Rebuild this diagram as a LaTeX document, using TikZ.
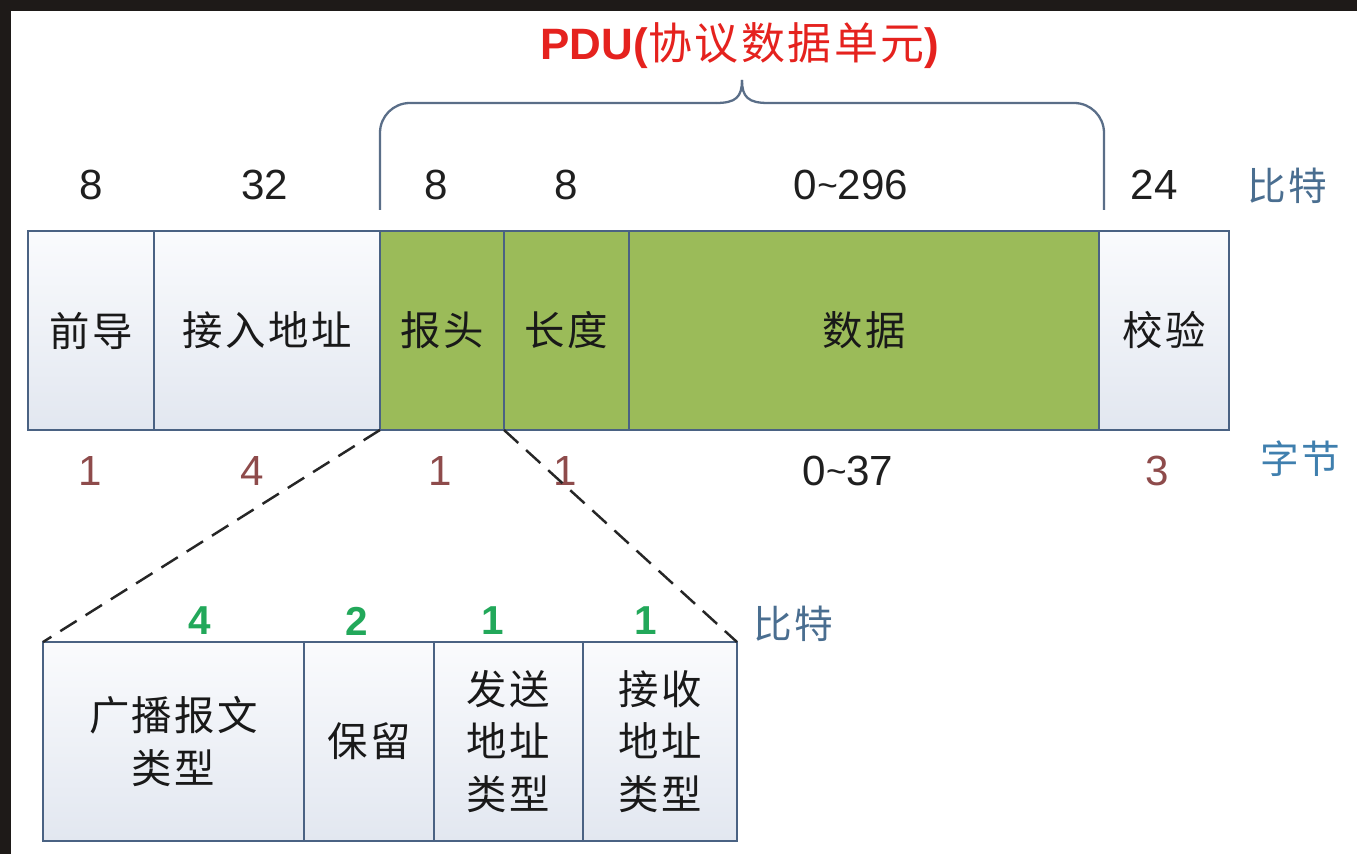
\documentclass[tikz,border=0pt]{standalone}
\usepackage{fontspec}
\setmainfont{Liberation Sans}
\newfontfamily\cjk{Noto Sans CJK SC}[LetterSpace=6]
\definecolor{bordc}{HTML}{4A6283}
\definecolor{boxtop}{HTML}{FAFBFD}
\definecolor{boxbot}{HTML}{E2E7F0}
\definecolor{pdugreen}{HTML}{9BBB59}
\definecolor{bytec}{HTML}{8E4B4B}
\definecolor{bitc}{HTML}{4A6E90}
\definecolor{bytelab}{HTML}{3F7FAE}
\definecolor{grn}{HTML}{22A85A}
\definecolor{pdured}{HTML}{E5221E}
\definecolor{bracec}{HTML}{5A6E88}
\definecolor{darkbg}{HTML}{1E1A18}
\newcommand\tld{{\fontsize{20}{20}\selectfont\raisebox{1pt}{\textasciitilde}}}
\begin{document}
\begin{tikzpicture}[x=0.02cm,y=-0.02cm,
  fldbase/.style={draw=bordc, line width=1.4pt, inner sep=0pt, outer sep=0pt,
    minimum height=3.98cm, font=\cjk\fontsize{23}{30}\selectfont, text=black!90, align=center},
  lt/.style={fldbase, top color=boxtop, bottom color=boxbot},
  gr/.style={fldbase, fill=pdugreen},
  num/.style={inner sep=0pt, font=\fontsize{24}{28}\selectfont, text=black!88},
  bnum/.style={num, text=bytec},
  gnum/.style={inner sep=0pt, font=\bfseries\fontsize{23}{28}\selectfont, text=grn},
  unit/.style={inner sep=0pt, font=\cjk\fontsize{22}{28}\selectfont},
  dashline/.style={line width=1.4pt, black!85, dash pattern=on 11pt off 6pt},
  bracel/.style={line width=1.3pt, bracec}
]
\useasboundingbox (0,0) rectangle (1357,854);
\fill[darkbg] (0,0) rectangle (1357,854);
\fill[white] (11,11) rectangle (1357,854);

% main frame
\node[lt, minimum width=2.52cm] (qd) at (91,330.5) {前导};
\node[lt, minimum width=4.52cm] (jr) at (267,330.5) {接入地址};
\node[gr, minimum width=2.48cm] (bt) at (442,330.5) {报头};
\node[gr, minimum width=2.5cm] (cd) at (566.5,330.5) {长度};
\node[gr, minimum width=9.4cm] (sj) at (864,330.5) {数据};
\node[lt, minimum width=2.6cm] (jy) at (1164,330.5) {校验};

% bits row
\node[num] (b1) at (91,185) {8};
\node[num] (b2) at (265,185) {32};
\node[num] (b3) at (436,185) {8};
\node[num] (b4) at (566,185) {8};
\node[num] (b5) at (851,185) {0\tld 296};
\node[num] (b6) at (1154,185) {24};
\node[unit, text=bitc] (bitlab) at (1287,186) {比特};

% bytes row
\node[bnum] (y1) at (90,471) {1};
\node[bnum] (y2) at (252,471) {4};
\node[bnum] (y3) at (440,471) {1};
\node[bnum] (y4) at (565,471) {1};
\node[num] (y5) at (848,471) {0\tld 37};
\node[bnum] (y6) at (1157,471) {3};
\node[unit, text=bytelab] (bytelab) at (1300,459) {字节};

% PDU brace
\node[inner sep=0pt, text=pdured, font=\bfseries\fontsize{25}{30}\selectfont] (pdu) at (740,46) {PDU({\cjk\mdseries 协议数据单元})};
\draw[bracel, rounded corners=17pt] (380,210) -- (380,103) -- (716,103);
\draw[bracel] (716,103) .. controls (736,103) and (742,97) .. (742,80);
\draw[bracel] (742,80) .. controls (742,97) and (748,103) .. (768,103);
\draw[bracel, rounded corners=17pt] (768,103) -- (1104,103) -- (1104,210);

% header expansion
\node[lt, minimum width=5.22cm] (sa) at (173.5,741.5) {广播报文\\类型};
\node[lt, minimum width=2.6cm] (sb) at (369,741.5) {保留};
\node[lt, minimum width=2.98cm, font=\cjk\fontsize{23}{29.8}\selectfont] (sc) at (508.5,741.5) {发送\\地址\\类型};
\node[lt, minimum width=3.08cm, font=\cjk\fontsize{23}{29.8}\selectfont] (sd) at (660,741.5) {接收\\地址\\类型};

\node[gnum] (g1) at (200,621) {4};
\node[gnum] (g2) at (357,621) {2};
\node[gnum] (g3) at (493,621) {1};
\node[gnum] (g4) at (646,621) {1};
\node[unit, text=bitc] (bitlab2) at (793,624) {比特};

\draw[dashline] (bt.south west) -- (sa.north west);
\draw[dashline] (bt.south east) -- (sd.north east);
\end{tikzpicture}
\end{document}
